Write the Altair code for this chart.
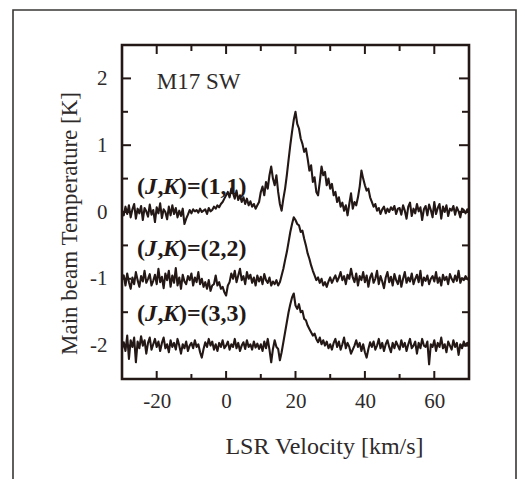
import altair as alt
import pandas as pd

# ---- data ----
velocity_start = -30.0   # km/s, first channel
velocity_step = 0.5      # km/s, channel spacing

t11 = [
    0.02, -0.05, 0.08, -0.03, 0.10, -0.08, 0.04, 0.12, -0.10, 0.05, -0.02, 0.09, -0.12, 0.06, 0.01, -0.07, 0.11, -0.04, 0.03, -0.15,
    0.07, -0.02, 0.13, -0.09, 0.04, 0.00, -0.11, 0.08, -0.05, 0.10, -0.03, 0.06, -0.08, 0.02, -0.06, 0.05, -0.18, -0.10, -0.04, 0.03,
    -0.02, 0.04, 0.01, 0.03, -0.01, 0.05, 0.00, 0.02, 0.04, -0.03, 0.06, 0.01, 0.03, 0.08, 0.05, 0.10, 0.07, 0.12, 0.15, 0.20,
    0.25, 0.30, 0.22, 0.35, 0.28, 0.20, 0.32, 0.18, 0.25, 0.15, 0.22, 0.12, 0.20, 0.10, 0.16, 0.08, 0.12, 0.05, 0.10, 0.15,
    0.30, 0.38, 0.25, 0.45, 0.35, 0.55, 0.68, 0.50, 0.40, 0.55, 0.30, 0.12, 0.02, 0.20, 0.35, 0.55, 0.78, 1.00, 1.20, 1.38,
    1.50, 1.32, 1.25, 1.10, 1.02, 0.90, 0.95, 0.80, 0.62, 0.70, 0.45, 0.52, 0.30, 0.25, 0.45, 0.68, 0.55, 0.60, 0.40, 0.50,
    0.35, 0.42, 0.25, 0.30, 0.15, 0.22, 0.08, 0.14, 0.02, 0.10, -0.05, 0.12, 0.28, 0.05, 0.15, 0.10, 0.22, 0.38, 0.62, 0.50,
    0.40, 0.32, 0.35, 0.22, 0.15, 0.08, 0.12, 0.02, 0.06, -0.03, 0.04, 0.08, -0.02, 0.05, 0.00, 0.07, 0.03, 0.09, -0.03, 0.05,
    0.06, -0.04, 0.10, 0.02, -0.10, 0.08, 0.14, -0.06, 0.05, -0.02, 0.12, 0.01, 0.07, -0.12, 0.04, 0.09, -0.05, 0.11, 0.03, -0.08,
    0.15, -0.03, 0.06, 0.12, -0.10, 0.08, 0.00, 0.10, -0.06, 0.05, 0.02, 0.09, -0.04, 0.07, 0.01, -0.08, 0.05, 0.03, -0.02, 0.04,
    0.01,
]

t22 = [
    -1.00, -0.95, -1.10, -0.92, -1.05, -1.15, -0.98, -1.08, -0.90, -1.02, -1.12, -0.96, -1.04, -0.88, -1.06, -1.00, -0.93, -1.10, -1.03, -0.94,
    -1.08, -0.85, -1.05, -0.97, -1.14, -0.92, -1.02, -0.88, -1.12, -0.95, -1.06, -0.84, -1.10, -0.98, -1.15, -0.94, -1.04, -1.08, -0.96, -1.02,
    -0.92, -1.10, -0.98, -1.05, -0.90, -1.08, -1.00, -1.12, -1.05, -1.15, -1.02, -1.18, -1.10, -1.08, -0.95, -1.10, -1.05, -1.15, -1.12, -1.20,
    -1.25, -1.10, -1.05, -0.92, -1.00, -0.88, -1.05, -0.95, -0.85, -1.02, -0.96, -1.08, -0.90, -1.00, -0.94, -1.06, -0.98, -1.10, -0.95, -1.04,
    -0.97, -1.08, -0.93, -1.02, -1.06, -0.98, -1.10, -1.04, -1.08, -1.02, -1.10, -1.05, -0.95, -0.85, -0.72, -0.60, -0.45, -0.30, -0.18, -0.08,
    -0.12, -0.18, -0.20, -0.30, -0.28, -0.40, -0.50, -0.62, -0.70, -0.80, -0.88, -0.95, -1.02, -0.98, -1.06, -1.00, -1.10, -1.05, -1.12, -1.04,
    -0.98, -1.06, -1.00, -0.95, -1.04, -0.98, -0.90, -1.02, -0.96, -1.08, -0.94, -1.00, -0.85, -0.98, -1.05, -0.92, -1.10, -0.96, -1.02, -0.90,
    -1.05, -0.95, -1.12, -0.98, -0.92, -1.06, -1.00, -0.88, -1.08, -0.96, -1.04, -1.14, -0.98, -0.90, -1.05, -0.97, -1.10, -0.93, -1.02, -1.08,
    -0.95, -1.12, -1.00, -0.90, -1.06, -0.98, -1.04, -0.92, -1.08, -1.00, -0.94, -1.05, -0.88, -1.10, -0.98, -1.03, -0.95, -1.08, -1.00, -0.96,
    -1.04, -0.90, -1.06, -0.98, -1.10, -0.94, -1.02, -0.97, -1.08, -0.93, -1.00, -1.05, -0.95, -1.03, -0.88, -1.06, -0.99, -1.02, -0.96, -1.00,
    -1.02,
]

t33 = [
    -2.05, -1.95, -2.08, -1.85, -2.20, -1.92, -2.02, -1.88, -2.25, -1.94, -2.04, -1.86, -2.00, -1.92, -2.12, -1.96, -1.88, -2.06, -1.98, -1.90,
    -2.02, -1.94, -2.08, -1.96, -1.88, -2.04, -1.98, -2.10, -1.92, -2.02, -1.96, -2.06, -1.90, -2.00, -2.12, -1.98, -2.04, -1.94, -2.08, -2.00,
    -1.96, -2.04, -1.92, -2.02, -1.98, -2.10, -2.18, -2.05, -1.95, -2.02, -1.90, -2.00, -1.94, -2.06, -1.98, -2.08, -1.96, -2.02, -1.92, -2.04,
    -2.00, -1.94, -2.06, -1.98, -2.02, -1.90, -2.04, -1.96, -2.08, -2.00, -1.95, -2.05, -1.92, -2.02, -1.98, -2.06, -1.94, -2.03, -1.97, -2.05,
    -1.98, -2.08, -1.94, -2.04, -1.90, -2.06, -2.25, -2.05, -1.92, -2.02, -2.05, -2.22, -2.10, -1.95, -1.80, -1.65, -1.50, -1.38, -1.28, -1.22,
    -1.40, -1.45, -1.38, -1.50, -1.48, -1.60, -1.62, -1.70, -1.75, -1.80, -1.85, -1.82, -1.90, -1.95, -1.88, -1.98, -1.92, -2.00, -1.94, -2.04,
    -1.98, -2.06, -1.96, -1.90, -2.02, -1.94, -2.06, -1.98, -1.88, -2.04, -1.96, -2.02, -2.12, -2.06, -2.00, -1.92, -2.02, -1.96, -2.08, -1.98,
    -2.10, -2.18, -2.05, -1.95, -2.02, -1.94, -2.06, -2.00, -1.90, -2.04, -1.96, -2.08, -1.98, -1.92, -2.02, -2.10, -1.96, -2.04, -1.94, -2.00,
    -2.06, -1.92, -2.02, -1.96, -2.08, -1.98, -1.90, -2.04, -2.00, -1.94, -2.12, -1.96, -2.04, -1.90, -2.00, -2.02, -1.94, -2.28, -1.98, -2.02,
    -1.92, -2.08, -1.96, -2.02, -1.88, -2.04, -1.98, -2.10, -1.94, -2.00, -2.06, -1.92, -2.02, -1.96, -2.14, -1.98, -2.04, -1.94, -2.00, -1.96,
    -2.00,
]

x_ticks_major = [-20, 0, 20, 40, 60]
x_ticks_minor = [-10, 10, 30, 50]
y_ticks_major = [-2, -1, 0, 1, 2]
y_ticks_minor = [-1.5, -0.5, 0.5, 1.5]

line_tails = [")=(1,1)", ")=(2,2)", ")=(3,3)"]
line_label_v = [-25.7, -25.7, -25.7]
line_label_T = [0.37, -0.55, -1.53]

source_name = ["M17 SW"]
source_v = [-20.0]
source_T = [1.95]

# ---- tables ----
rows = []
for name, vals in (("(1,1)", t11), ("(2,2)", t22), ("(3,3)", t33)):
    for i, t in enumerate(vals):
        rows.append({"v": velocity_start + i * velocity_step, "T": t, "series": name})
spec = pd.DataFrame(rows)

W, H = 347, 334
INK = "#231815"
TXT = "#2e2a2a"
FONT = "'Liberation Serif', 'Times New Roman', Times, 'DejaVu Serif', serif"

xs = alt.Scale(domain=[-30, 70], nice=False, zero=False)
ys = alt.Scale(domain=[-2.5, 2.5], nice=False, zero=False)

lines = alt.Chart(spec).mark_line(color=INK, strokeWidth=2.1, strokeJoin="round").encode(
    x=alt.X("v:Q", scale=xs, axis=alt.Axis(
        values=x_ticks_major, ticks=False, domain=False, grid=False,
        labelFont=FONT, labelFontSize=21, labelColor=TXT, labelPadding=11,
        labelExpr="datum.value + ''", labelFlush=False, labelOverlap=False,
        title="LSR Velocity [km/s]", titleFont=FONT, titleFontSize=24,
        titleFontWeight="normal", titleColor=TXT, titleX=202, titleY=74,
        titleAlign="center", titleBaseline="alphabetic")),
    y=alt.Y("T:Q", scale=ys, axis=alt.Axis(
        values=y_ticks_major, ticks=False, domain=False, grid=False,
        labelFont=FONT, labelFontSize=21, labelColor=TXT, labelPadding=15,
        labelExpr="datum.value + ''", labelFlush=False, labelOverlap=False,
        title="Main beam Temperature [K]", titleFont=FONT, titleFontSize=23,
        titleFontWeight="normal", titleColor=TXT, titleX=-46, titleY=178,
        titleAngle=270, titleAlign="center", titleBaseline="alphabetic")),
    detail="series:N",
)

xmaj = pd.DataFrame({"v": x_ticks_major})
xmin = pd.DataFrame({"v": x_ticks_minor})
ymaj = pd.DataFrame({"T": y_ticks_major})
ymin = pd.DataFrame({"T": y_ticks_minor})


def xticks(df, length):
    b = alt.Chart(df).mark_rule(color=INK, strokeWidth=2).encode(
        x=alt.X("v:Q", scale=xs), y=alt.value(H), y2=alt.value(H - length))
    t = alt.Chart(df).mark_rule(color=INK, strokeWidth=2).encode(
        x=alt.X("v:Q", scale=xs), y=alt.value(0), y2=alt.value(length + 1))
    return [b, t]


def yticks(df, length):
    l = alt.Chart(df).mark_rule(color=INK, strokeWidth=2).encode(
        y=alt.Y("T:Q", scale=ys), x=alt.value(0), x2=alt.value(length))
    r = alt.Chart(df).mark_rule(color=INK, strokeWidth=2).encode(
        y=alt.Y("T:Q", scale=ys), x=alt.value(W), x2=alt.value(W - length - 1))
    return [l, r]


tick_layers = xticks(xmaj, 8) + xticks(xmin, 5) + yticks(ymaj, 9) + yticks(ymin, 6)

src = pd.DataFrame({"v": source_v, "T": source_T, "name": source_name})
src_text = alt.Chart(src).mark_text(
    font=FONT, fontSize=23, color=TXT, align="left", baseline="middle"
).encode(x=alt.X("v:Q", scale=xs), y=alt.Y("T:Q", scale=ys), text="name:N")

lab = pd.DataFrame({"v": line_label_v, "T": line_label_T, "tail": line_tails})
FS = 24
pieces = [("(", 0.0, "normal"), ("J", 8.0, "italic"), (",", 20.5, "normal"),
          ("K", 26.0, "italic")]
label_layers = []
for txt, dx, style in pieces:
    label_layers.append(
        alt.Chart(lab).mark_text(
            font=FONT, fontSize=FS, fontWeight="bold", fontStyle=style,
            color=INK, align="left", baseline="middle", dx=dx
        ).encode(x=alt.X("v:Q", scale=xs), y=alt.Y("T:Q", scale=ys), text=alt.value(txt))
    )
label_layers.append(
    alt.Chart(lab).mark_text(
        font=FONT, fontSize=FS, fontWeight="bold", color=INK,
        align="left", baseline="middle", dx=42.0
    ).encode(x=alt.X("v:Q", scale=xs), y=alt.Y("T:Q", scale=ys), text="tail:N")
)

frame = alt.Chart(pd.DataFrame({"k": [0]})).mark_rect(
    filled=False, stroke="#3a3636", strokeWidth=1.6
).encode(x=alt.value(-109), x2=alt.value(394), y=alt.value(-35), y2=alt.value(445))

chart = alt.layer(
    frame, *tick_layers, lines, src_text, *label_layers
).properties(
    width=W, height=H,
    background="white",
    autosize=alt.AutoSizeParams(type="none"),
    padding={"left": 114, "top": 37, "right": 48, "bottom": 100},
).configure_view(stroke=INK, strokeWidth=2.6)

chart.save("out.html", embed_options={"renderer": "svg", "actions": False})
